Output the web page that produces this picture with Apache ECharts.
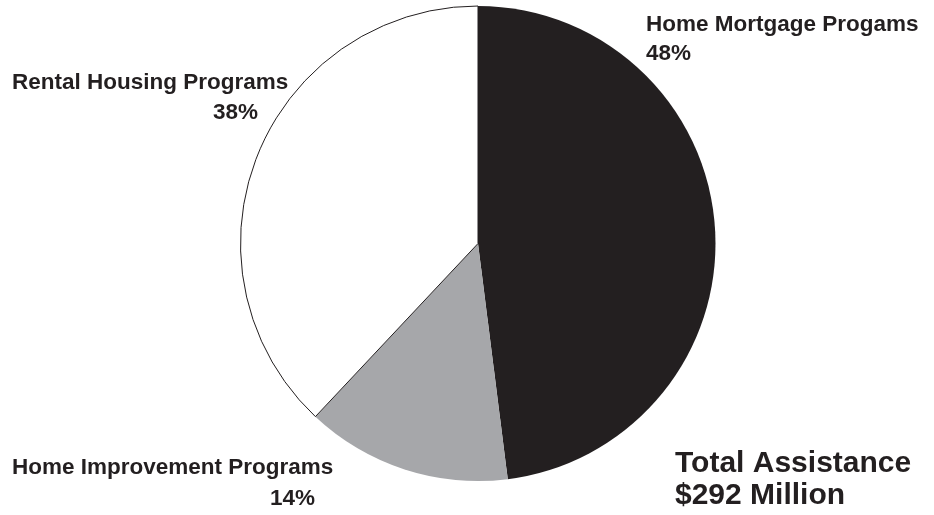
<!DOCTYPE html>
<html>
<head>
<meta charset="utf-8">
<script src="https://cdn.jsdelivr.net/npm/echarts@6/dist/echarts.min.js"></script>
<style>
html,body{margin:0;padding:0;background:#fff;}
#chart{width:934px;height:515px;}
</style>
</head>
<body>
<div id="chart"></div>
<script>
var categories = ['Home Mortgage Progams', 'Home Improvement Programs', 'Rental Housing Programs'];
var values = [48, 14, 38];
var sliceColors = ['#231f20', '#a6a7aa', '#ffffff'];
var totalLines = ['Total Assistance', '$292 Million'];

var textColor = '#231f20';
var labelFont = 'bold 22.5px "Liberation Sans", Arial, sans-serif';
var totalFont = 'bold 30px "Liberation Sans", Arial, sans-serif';

// label positions: [nameX, nameY, pctX, pctY]
var labelPos = [
  [646, 25, 646, 53.5],
  [12, 468, 270, 499],
  [12, 83, 213, 113]
];

var graphics = [];
categories.forEach(function (c, i) {
  var p = labelPos[i];
  graphics.push({type: 'text', x: p[0], y: p[1], style: {text: c, font: labelFont, fill: textColor, textAlign: 'left', textVerticalAlign: 'middle'}});
  graphics.push({type: 'text', x: p[2], y: p[3], style: {text: values[i] + '%', font: labelFont, fill: textColor, textAlign: 'left', textVerticalAlign: 'middle'}});
});
graphics.push({type: 'text', x: 675, y: 464, style: {text: totalLines[0], font: totalFont, fill: textColor, textAlign: 'left', textVerticalAlign: 'middle'}});
graphics.push({type: 'text', x: 675, y: 496, style: {text: totalLines[1], font: totalFont, fill: textColor, textAlign: 'left', textVerticalAlign: 'middle'}});

var chart = echarts.init(document.getElementById('chart'));
chart.setOption({
  animation: false,
  backgroundColor: '#ffffff',
  series: [{
    type: 'pie',
    center: [478, 243.5],
    radius: [0, 237.5],
    startAngle: 90,
    clockwise: true,
    label: {show: false},
    labelLine: {show: false},
    emphasis: {disabled: true},
    data: categories.map(function (c, i) {
      return {
        name: c,
        value: values[i],
        itemStyle: {
          color: sliceColors[i],
          borderColor: i === 2 ? '#231f20' : sliceColors[i],
          borderWidth: i === 2 ? 1 : 0
        }
      };
    })
  }],
  graphic: graphics
});
</script>
</body>
</html>
